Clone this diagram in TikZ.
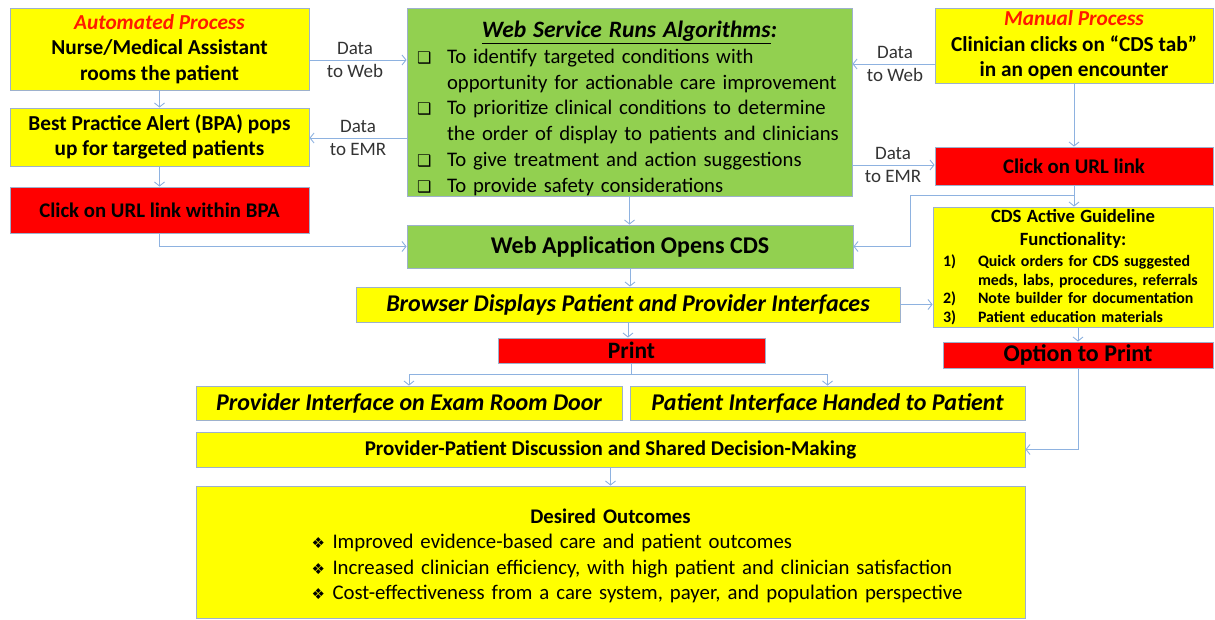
\documentclass[tikz,border=0pt]{standalone}
\usepackage{fontspec}
\setmainfont{Carlito}
\newfontfamily\symfont{DejaVu Sans}
\usetikzlibrary{arrows.meta}
\definecolor{boxyellow}{HTML}{FFFF00}
\definecolor{boxred}{HTML}{FF0000}
\definecolor{boxgreen}{HTML}{92D050}
\definecolor{boxline}{HTML}{9DB1CC}
\definecolor{arrline}{HTML}{8EB2E0}
\definecolor{titlered}{HTML}{FF1A00}
\newcommand{\fsz}[2]{\fontsize{#1}{#2}\selectfont}
\newcommand{\chkbox}{\makebox[34pt][l]{\hspace{4pt}\symfont\fsz{16}{16}❑}}
\newcommand{\dmd}{\makebox[21pt][l]{\symfont\fsz{15}{15}❖}}
\newcommand{\numit}[1]{\makebox[39pt][l]{\hspace{4pt}#1}}

\begin{document}
\begin{tikzpicture}[x=1pt,y=-1pt,
  box/.style={draw=boxline,line width=0.9pt,inner sep=0pt,align=center,font=\bfseries\fsz{21.3}{25.5}},
  ybox/.style={box,fill=boxyellow},
  rbox/.style={box,fill=boxred},
  gbox/.style={box,fill=boxgreen},
  lbl/.style={align=center,inner sep=0pt,font=\fsz{19}{23},text=black!80},
  arr/.style={draw=arrline,line width=0.9pt,-{Straight Barb[length=4pt,width=10pt]}}]
\useasboundingbox (0,0) rectangle (1215,619);

% automated side
\node[ybox,minimum width=299,minimum height=82] (auto) at (159.5,49) {{\color{titlered}\itshape Automated Process}\\Nurse/Medical Assistant\\rooms the patient};
\node[ybox,minimum width=299,minimum height=58] (bpa) at (159.5,137) {Best Practice Alert (BPA) pops\\up for targeted patients};
\node[rbox,minimum width=299,minimum height=46,font=\bfseries\fsz{20.8}{24}] (clickbpa) at (159.5,210) {Click on URL link within BPA};

% web service
\node[gbox,minimum width=445,minimum height=188,text width=433,align=left,font=\fsz{20.7}{25.8}] (webs) at (629.5,102) {%
\makebox[\linewidth]{\rule{0pt}{29pt}\fsz{23.5}{25.8}\bfseries\itshape\underline{Web Service Runs Algorithms}:}\\
\chkbox To identify targeted conditions with\\
\hspace*{34pt}opportunity for actionable care improvement\\
\chkbox To prioritize clinical conditions to determine\\
\hspace*{34pt}the order of display to patients and clinicians\\
\chkbox To give treatment and action suggestions\\
\chkbox To provide safety considerations};
\node[gbox,minimum width=446,minimum height=43,font=\bfseries\fsz{24}{26}] (webapp) at (630,246.5) {Web Application Opens CDS};
\node[ybox,minimum width=544,minimum height=35,font=\bfseries\itshape\fsz{24}{26}] (browser) at (628,304.5) {Browser Displays Patient and Provider Interfaces};
\node[rbox,minimum width=267,minimum height=25,font=\bfseries\fsz{23.5}{24}] (print) at (631.5,350.5) {Print};
\node[ybox,minimum width=426,minimum height=34,font=\bfseries\itshape\fsz{24}{26}] (provider) at (409,403) {Provider Interface on Exam Room Door};
\node[ybox,minimum width=395,minimum height=34,font=\bfseries\itshape\fsz{24}{26}] (patient) at (827.5,403) {Patient Interface Handed to Patient};
\node[ybox,minimum width=829,minimum height=35,font=\bfseries\fsz{21}{24}] (discuss) at (610.5,449.5) {Provider-Patient Discussion and Shared Decision-Making};
\node[ybox,minimum width=829,minimum height=132,text width=810,align=left,font=\fsz{20.8}{25.5}] (desired) at (610.5,552) {%
\makebox[\linewidth]{\rule{0pt}{22pt}\bfseries Desired Outcomes}\\
\hspace*{106pt}\dmd Improved evidence-based care and patient outcomes\\
\hspace*{106pt}\dmd Increased clinician efficiency, with high patient and clinician satisfaction\\
\hspace*{106pt}\dmd Cost-effectiveness from a care system, payer, and population perspective};

% manual side
\node[ybox,minimum width=278,minimum height=75] (manual) at (1074,45.5) {{\color{titlered}\itshape Manual Process}\\Clinician clicks on “CDS tab”\\in an open encounter};
\node[rbox,minimum width=278,minimum height=38,font=\bfseries\fsz{20.8}{24}] (url) at (1074,166) {Click on URL link};
\node[ybox,minimum width=280,minimum height=120,text width=268,align=left,font=\bfseries\fsz{15.9}{18.5}] (cds) at (1073,267) {%
\makebox[\linewidth]{\fsz{18.7}{22}CDS Active Guideline}\\[4pt]
\makebox[\linewidth]{\fsz{18.7}{22}Functionality:}\\[3pt]
\numit{1)}Quick orders for CDS suggested\\
\hspace*{39pt}meds, labs, procedures, referrals\\
\numit{2)}Note builder for documentation\\
\numit{3)}Patient education materials};
\node[rbox,minimum width=270,minimum height=26,font=\bfseries\fsz{24}{26}] (option) at (1078,355) {Option to Print};

% data labels
\node[lbl] (dweb1) at (355,60) {Data\\to Web};
\node[lbl] (demr1) at (358,138) {Data\\to EMR};
\node[lbl] (dweb2) at (895,64) {Data\\to Web};
\node[lbl] (demr2) at (893,165) {Data\\to EMR};
\coordinate (jn) at (910,195);
\coordinate (pj) at (631.5,374);

% connectors
\foreach \a/\b in {auto/bpa,bpa/clickbpa,webs/webapp,webapp/browser,browser/print,discuss/desired,manual/url,url/cds}
  \draw[arr] (\a.south) -- (\a.south |- \b.north);
\draw[arr] (option.north |- cds.south) -- (option.north);
\draw[arr] (auto.east |- dweb1) -- (webs.west |- dweb1);
\draw[arr] (webs.west |- demr1) -- (bpa.east |- demr1);
\draw[arr] (manual.west |- dweb2) -- (webs.east |- dweb2);
\draw[arr] (webs.east |- demr2) -- (url.west |- demr2);
\draw[arr] (clickbpa.south) |- (webapp.west);
\draw[arr] (url.south |- jn) -- (jn) |- (webapp.east);
\draw[arr] (browser.east) -- (browser.east -| cds.west);
\draw[arr] (print.south) -- (pj) -| (provider.north);
\draw[arr] (pj) -| (patient.north);
\draw[arr] (option.south) |- (discuss.east);
\end{tikzpicture}
\end{document}
